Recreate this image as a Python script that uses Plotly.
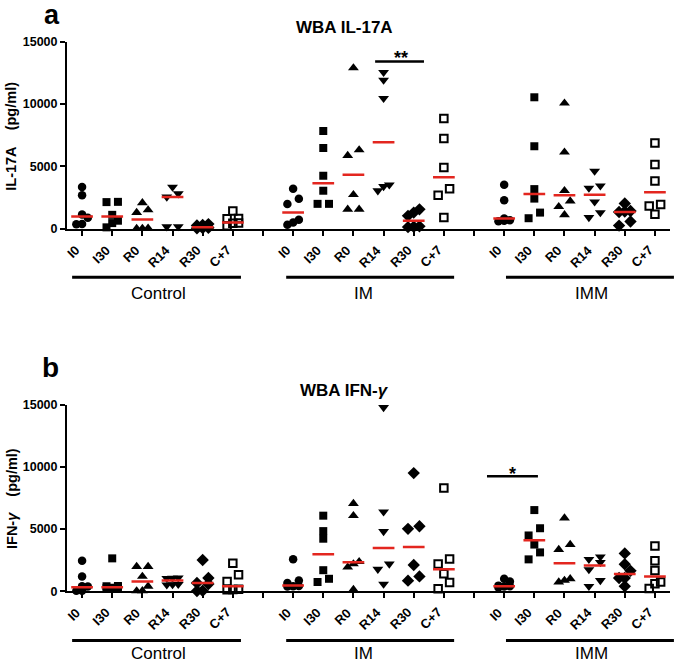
import numpy as np
import plotly.graph_objects as go

groups = ["Control", "IM", "IMM"]
timepoints = ["I0", "I30", "R0", "R14", "R30", "C+7"]

# WBA IL-17A (pg/ml), one list per timepoint
il17a_control = [
    [3350, 2700, 1150, 900, 400, 380],
    [2170, 2150, 1130, 660, 470, 130],
    [2090, 1520, 1310, 60, 40, 30],
    [3350, 2820, 2560, 190, 180],
    [390, 320, 280, 100, 80, 60],
    [1440, 840, 820, 470, 450, 250],
]
il17a_im = [
    [3210, 2410, 1990, 740, 525, 345],
    [7840, 6480, 4260, 3060, 2010, 2010],
    [12890, 6330, 5880, 2740, 1570, 1570],
    [12540, 11920, 10460, 3530, 3400, 3060],
    [1570, 1310, 1050, 210, 180, 150],
    [8840, 7240, 4920, 3210, 2700, 920],
]
il17a_imm = [
    [3530, 2300, 840, 700, 660, 620],
    [10540, 6620, 3190, 2430, 1310, 860],
    [10070, 6150, 3060, 2230, 1780, 1130],
    [4630, 3450, 3270, 2170, 1310, 920],
    [2040, 1440, 1400, 1360, 600, 270],
    [6880, 5150, 3840, 1960, 1830, 1180],
]
il17a_median = [
    [1000, 1000, 760, 2560, 130, 525],
    [1310, 3660, 4340, 6950, 660, 4130],
    [840, 2800, 2700, 2740, 1360, 2930],
]

# WBA IFN-gamma (pg/ml)
ifng_control = [
    [2450, 1190, 400, 380, 40, 30],
    [2640, 420, 400, 330, 280, 250],
    [1980, 1980, 1190, 400, 30, 20],
    [1080, 1060, 1040, 560, 540, 520],
    [2510, 1060, 660, 580, 40, 20],
    [2240, 1320, 790, 150, 140, 120],
]
ifng_im = [
    [2560, 870, 660, 420, 400, 380],
    [6070, 4830, 4220, 1690, 1000, 740],
    [7040, 6070, 2370, 2190, 1930, 130],
    [14770, 6380, 4800, 2190, 1770, 580],
    [9490, 5220, 5010, 2110, 1190, 850],
    [8300, 2590, 2190, 1400, 710, 190],
]
ifng_imm = [
    [1000, 790, 450, 400, 380, 300],
    [6520, 5060, 4480, 3750, 3120, 2560],
    [5880, 3750, 3350, 1000, 870, 740],
    [2770, 2560, 2320, 1740, 870, 400],
    [3040, 2170, 1640, 1060, 1060, 400],
    [3640, 2450, 1660, 740, 610, 210],
]
ifng_median = [
    [320, 320, 790, 870, 660, 400],
    [470, 2980, 2320, 3480, 3560, 1770],
    [400, 4090, 2240, 2060, 1380, 1190],
]

FONT = "Liberation Sans, Arial, sans-serif"
RED = "#e3261f"
SLOT = 7  # 6 timepoints + one empty slot between groups

# marker style per timepoint
symbols = ["circle", "square", "triangle-up", "triangle-down", "diamond", "square-open"]
sizes = [8.5, 8, 9.5, 9.5, 9.5, 7.5]


def swarm(vals, step=0.19, tol=600):
    # simple GraphPad-like spread of points with similar values
    vals = np.asarray(vals, dtype=float)
    order = np.argsort(vals)
    offs = np.zeros(len(vals))
    clusters, cur = [], [order[0]]
    for i in order[1:]:
        if vals[i] - vals[cur[0]] < tol:
            cur.append(i)
        else:
            clusters.append(cur)
            cur = [i]
    clusters.append(cur)
    patterns = {1: [0], 2: [-1, 1], 3: [-1, 0, 1]}
    for c in clusters:
        for k in range(0, len(c), 3):
            row = c[k:k + 3]
            for i, p in zip(row, patterns[len(row)]):
                offs[i] = p * step
    return offs


def add_panel(fig, data, medians, xa, ya):
    for g, group in enumerate(data):
        for t, vals in enumerate(group):
            base = g * SLOT + t
            opn = symbols[t].endswith("open")
            fig.add_trace(go.Scatter(
                x=base + swarm(vals), y=vals, mode="markers",
                xaxis=xa, yaxis=ya, cliponaxis=False, hoverinfo="skip",
                marker=dict(symbol=symbols[t], size=sizes[t], color="black",
                            line=dict(color="black", width=2 if opn else 0)),
            ))
    mx, my = [], []
    for g, meds in enumerate(medians):
        for t, m in enumerate(meds):
            base = g * SLOT + t
            mx += [base - 0.36, base + 0.36, None]
            my += [m, m, None]
    fig.add_trace(go.Scatter(x=mx, y=my, mode="lines", xaxis=xa, yaxis=ya,
                             line=dict(color=RED, width=2.5), hoverinfo="skip"))


fig = go.Figure()
add_panel(fig, [il17a_control, il17a_im, il17a_imm], il17a_median, "x", "y")
add_panel(fig, [ifng_control, ifng_im, ifng_imm], ifng_median, "x2", "y2")

W, H = 675, 670
tickvals = list(range(len(groups) * SLOT - 1))
ticktext = [timepoints[i % SLOT] if i % SLOT < len(timepoints) else "" for i in tickvals]
xdom = [67 / W, 670 / W]
xrng = [-0.5, 19.5]

# tick labels are drawn as rotated annotations below (see further down)
xcommon = dict(
    domain=xdom, range=xrng, tickvals=tickvals, showticklabels=False,
    ticks="outside", ticklen=5, tickwidth=2, tickcolor="black",
    showline=True, linewidth=2, linecolor="black", showgrid=False, zeroline=False,
)
yticks = [0, 5000, 10000, 15000]
ycommon = dict(
    range=[0, 15000], tickvals=yticks, ticktext=[str(v) for v in yticks],
    ticks="outside", ticklen=5, tickwidth=2, tickcolor="black",
    showline=True, linewidth=2, linecolor="black", showgrid=False, zeroline=False,
    tickfont=dict(family=FONT, size=12.5, color="black", weight="bold"),
)

y_top = [1 - 226.7 / H, 1 - 35.3 / H]
y_bot = [1 - 596.7 / H, 1 - 406 / H]
fig.update_layout(
    width=W, height=H, margin=dict(l=0, r=0, t=0, b=0),
    plot_bgcolor="white", paper_bgcolor="white", showlegend=False,
    xaxis=dict(anchor="y", **xcommon),
    yaxis=dict(anchor="x", domain=y_top, **ycommon),
    xaxis2=dict(anchor="y2", **xcommon),
    yaxis2=dict(anchor="x2", domain=y_bot, **ycommon),
)

shapes, annots = [], []

# rotated category labels under each x axis
for suf, ydom in [("", y_top), ("2", y_bot)]:
    for i, txt in zip(tickvals, ticktext):
        if not txt:
            continue
        annots.append(dict(
            text=txt, xref="x%s" % suf, yref="paper", x=i + 0.12,
            y=ydom[0] - 11 / H, textangle=-45, xanchor="right", yanchor="top",
            showarrow=False, font=dict(family=FONT, size=13, color="black", weight="bold"),
        ))

# group bars under the x axes (in x-domain units)
group_span = [(-0.33, 5.27), (6.77, 12.34), (14.06, 19.63)]
group_label_x = [2.55, 9.35, 16.9]
panels = [  # (axis suffix, group bar y px, group label y px)
    ("", 276, 292.5),
    ("2", 647, 660),
]
for suf, ybar, ylab in panels:
    for (a, b), name, lx in zip(group_span, groups, group_label_x):
        shapes.append(dict(
            type="line", xref="x%s domain" % suf, yref="paper",
            x0=(a - xrng[0]) / (xrng[1] - xrng[0]), x1=(b - xrng[0]) / (xrng[1] - xrng[0]),
            y0=1 - ybar / H, y1=1 - ybar / H, line=dict(color="black", width=3),
        ))
        annots.append(dict(
            text=name, xref="x%s" % suf, yref="paper", x=lx, y=1 - ylab / H,
            showarrow=False, xanchor="center", yanchor="middle",
            font=dict(family=FONT, size=17, color="black"),
        ))

# significance bars
shapes.append(dict(type="line", xref="x", yref="y", x0=9.72, x1=11.34, y0=13400, y1=13400,
                   line=dict(color="black", width=2.5)))
shapes.append(dict(type="line", xref="x2", yref="y2", x0=13.43, x1=15.12, y0=9230, y1=9230,
                   line=dict(color="black", width=2.5)))
annots += [
    dict(text="**", xref="x", yref="paper", x=10.58, y=1 - 52 / H, showarrow=False,
         yanchor="middle", font=dict(family=FONT, size=18, color="black", weight="bold")),
    dict(text="*", xref="x2", yref="paper", x=14.27, y=1 - 477 / H, showarrow=False,
         yanchor="middle", font=dict(family=FONT, size=18, color="black", weight="bold")),
]

# titles, panel letters and y-axis titles
annots += [
    dict(text="WBA IL-17A", xref="x", yref="paper", x=8.69, y=1 - 21 / H, showarrow=False,
         yanchor="middle", font=dict(family=FONT, size=17, color="black", weight="bold")),
    dict(text="WBA IFN-<i>γ</i>", xref="x2", yref="paper", x=8.69, y=1 - 392 / H, showarrow=False,
         yanchor="middle", font=dict(family=FONT, size=17, color="black", weight="bold")),
    dict(text="a", xref="paper", yref="paper", x=42 / W, y=1 - 8 / H, showarrow=False,
         yanchor="middle", font=dict(family=FONT, size=27, color="black", weight="bold")),
    dict(text="b", xref="paper", yref="paper", x=40 / W, y=1 - 368 / H, showarrow=False,
         yanchor="middle", font=dict(family=FONT, size=28, color="black", weight="bold")),
    dict(text="IL-17A\u00a0\u00a0\u00a0\u00a0(pg/ml)", xref="paper", yref="paper",
         x=11.5 / W, y=1 - 132 / H, textangle=-90, showarrow=False,
         xanchor="center", yanchor="middle",
         font=dict(family=FONT, size=14.5, color="black", weight="bold")),
    dict(text="IFN-<i>γ</i>\u00a0\u00a0\u00a0\u00a0(pg/ml)", xref="paper", yref="paper",
         x=11.5 / W, y=1 - 502 / H, textangle=-90, showarrow=False,
         xanchor="center", yanchor="middle",
         font=dict(family=FONT, size=14.5, color="black", weight="bold")),
]

fig.update_layout(shapes=shapes, annotations=annots)

# the page body has a default 8px margin; remove it so the figure sits at (0, 0)
fig.write_html(
    "out.html",
    config={"displayModeBar": False},
    post_script="document.body.style.margin='0';document.body.style.overflow='hidden';",
)
